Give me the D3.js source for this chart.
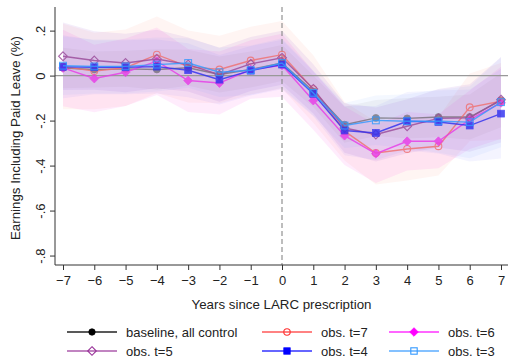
<!DOCTYPE html>
<html><head><meta charset="utf-8">
<script src="https://cdn.jsdelivr.net/npm/d3@7"></script>
<style>
body{margin:0;background:#fff;}
svg{display:block;font-family:"Liberation Sans",Arial,Helvetica,sans-serif;}
</style></head>
<body><svg id="c" width="508" height="357"></svg>
<script>
const years = [-7,-6,-5,-4,-3,-2,-1,0,1,2,3,4,5,6,7];
const yTicks = [0.2,0,-0.2,-0.4,-0.6,-0.8];
const yTickLabels = [".2","0","-.2","-.4","-.6","-.8"];
const seriesNames = ["baseline, all control","obs. t=7","obs. t=6","obs. t=5","obs. t=4","obs. t=3"];
const baseline = [0.034,0.027,0.030,0.027,0.035,0.005,0.027,0.056,-0.070,-0.218,-0.188,-0.190,-0.184,-0.184,-0.110];
const obs7 = [0.040,0.020,0.035,0.093,0.040,0.027,0.067,0.093,-0.060,-0.247,-0.344,-0.326,-0.314,-0.141,-0.114];
const obs6 = [0.034,-0.013,0.015,0.064,-0.022,-0.033,0.027,0.046,-0.111,-0.267,-0.347,-0.292,-0.292,-0.196,-0.121];
const obs5 = [0.086,0.067,0.056,0.074,0.049,0.004,0.052,0.079,-0.059,-0.233,-0.262,-0.225,-0.190,-0.188,-0.107];
const obs4 = [0.039,0.037,0.037,0.040,0.024,-0.018,0.022,0.049,-0.081,-0.244,-0.255,-0.203,-0.206,-0.222,-0.169];
const obs3 = [0.044,0.041,0.041,0.049,0.056,0.015,0.024,0.056,-0.077,-0.222,-0.199,-0.203,-0.203,-0.207,-0.118];
// half-widths of the confidence bands
const ciBase = [0.09,0.08,0.08,0.09,0.08,0.08,0.08,0.08,0.07,0.08,0.08,0.09,0.09,0.10,0.12];
const ci7 = [0.19,0.17,0.17,0.17,0.16,0.15,0.15,0.15,0.15,0.13,0.14,0.14,0.13,0.15,0.17];
const ci6 = [0.17,0.15,0.15,0.15,0.14,0.14,0.13,0.14,0.13,0.13,0.13,0.13,0.12,0.13,0.16];
const ci5 = [0.15,0.13,0.13,0.13,0.12,0.12,0.12,0.12,0.11,0.11,0.12,0.12,0.13,0.15,0.19];
const ci4 = [0.14,0.12,0.12,0.12,0.12,0.11,0.11,0.11,0.10,0.11,0.12,0.13,0.14,0.16,0.20];
const ci3 = [0.13,0.12,0.12,0.12,0.11,0.11,0.11,0.11,0.10,0.10,0.11,0.12,0.14,0.16,0.20];

const styles = [
  {color:"#000000", lineColor:"#555555", fill:"#808080", fillOp:0.08, marker:"circle", filled:true},
  {color:"#ff3030", lineColor:"#f07070", fill:"#ff5030", fillOp:0.06, marker:"circle", filled:false},
  {color:"#ff00ff", lineColor:"#e83ce8", fill:"#ff40e0", fillOp:0.10, marker:"diamond", filled:true},
  {color:"#993399", lineColor:"#9a4a9a", fill:"#9050d0", fillOp:0.10, marker:"diamond", filled:false},
  {color:"#0000ff", lineColor:"#3030f0", fill:"#6060ff", fillOp:0.07, marker:"square", filled:true},
  {color:"#3399ff", lineColor:"#3399ff", fill:"#60a0ff", fillOp:0.07, marker:"square", filled:false}
];
const values = [baseline, obs7, obs6, obs5, obs4, obs3];
const cis = [ciBase, ci7, ci6, ci5, ci4, ci3];

const svg = d3.select("#c");
const x = d3.scaleLinear().domain([-7,7]).range([63,501]);
const y = d3.scaleLinear().domain([-0.842,0.305]).range([265,7]);
const plotL = 55, plotR = 508, plotT = 7, plotB = 265;

// bands
const area = d3.area().x(d=>x(d.x)).y0(d=>y(d.v-d.c)).y1(d=>y(d.v+d.c));
values.forEach((vals,i)=>{
  const d = years.map((yr,j)=>({x:yr, v:vals[j], c:cis[i][j]}));
  svg.append("path").attr("d", area(d)).attr("fill", styles[i].fill).attr("fill-opacity", styles[i].fillOp);
});

// reference lines
svg.append("line").attr("x1",plotL).attr("x2",plotR).attr("y1",y(0)).attr("y2",y(0))
  .attr("stroke","#999").attr("stroke-width",1.2);
svg.append("line").attr("x1",x(0)).attr("x2",x(0)).attr("y1",plotT).attr("y2",plotB)
  .attr("stroke","#888").attr("stroke-width",1.1).attr("stroke-dasharray","5,3");

// markers
function drawMarker(g, type, cx, cy, s, st, size){
  let el;
  const r = size;
  if(type==="circle") el = g.append("circle").attr("cx",cx).attr("cy",cy).attr("r",r);
  else if(type==="square") el = g.append("rect").attr("x",cx-r).attr("y",cy-r).attr("width",2*r).attr("height",2*r);
  else el = g.append("path").attr("d",`M${cx},${cy-r*1.3}L${cx+r*1.3},${cy}L${cx},${cy+r*1.3}L${cx-r*1.3},${cy}Z`);
  if(st.filled) el.attr("fill", s).attr("stroke", s).attr("stroke-width",0.8);
  else el.attr("fill","none").attr("stroke", s).attr("stroke-width",1.1);
  return el;
}

const line = d3.line().x(d=>x(d.x)).y(d=>y(d.v));
values.forEach((vals,i)=>{
  const d = years.map((yr,j)=>({x:yr, v:vals[j]}));
  const g = svg.append("g").attr("opacity", i===0?0.6:0.82);
  g.append("path").attr("d", line(d)).attr("fill","none").attr("stroke", styles[i].lineColor).attr("stroke-width",1.4);
  d.forEach(p=>drawMarker(g, styles[i].marker, x(p.x), y(p.v), styles[i].lineColor, styles[i], 3.4));
});

// axes
const xAxis = d3.axisBottom(x).tickValues(years).tickSize(5).tickSizeOuter(0).tickFormat(d3.format("d"));
const gx = svg.append("g").attr("transform",`translate(0,${plotB})`).call(xAxis);
gx.select(".domain").remove();
gx.selectAll(".tick line").attr("stroke","#333");
gx.selectAll(".tick text").attr("font-size",13).attr("fill","#222").attr("dy","0.9em").attr("font-family","Liberation Sans, Arial, sans-serif");
svg.append("line").attr("x1",plotL).attr("x2",plotR).attr("y1",plotB).attr("y2",plotB).attr("stroke","#333").attr("stroke-width",1);

const yAxis = d3.axisLeft(y).tickValues(yTicks).tickSize(5).tickSizeOuter(0).tickFormat((d,i)=>yTickLabels[i]);
const gy = svg.append("g").attr("transform",`translate(${plotL},0)`).call(yAxis);
gy.select(".domain").remove();
gy.selectAll(".tick line").attr("stroke","#333");
gy.selectAll(".tick text").attr("font-size",13).attr("fill","#222")
  .attr("x",null).attr("dy",null).attr("text-anchor","middle")
  .attr("font-family","Liberation Sans, Arial, sans-serif")
  .attr("transform","translate(-10,0) rotate(-90)");
svg.append("line").attr("x1",plotL).attr("x2",plotL).attr("y1",plotT).attr("y2",plotB).attr("stroke","#333").attr("stroke-width",1);

// titles
svg.append("text").attr("x",281.5).attr("y",308.5).attr("text-anchor","middle").attr("font-size",13.3).attr("fill","#222")
  .text("Years since LARC prescription");
svg.append("text").attr("transform","translate(19.5,138) rotate(-90)").attr("text-anchor","middle").attr("font-size",13.3).attr("fill","#222")
  .text("Earnings Including Paid Leave (%)");

// legend
const legendPos = [
  {lx:67, ly:332}, {lx:262, ly:332}, {lx:389, ly:332},
  {lx:67, ly:351}, {lx:262, ly:351}, {lx:389, ly:351}
];
const legendOrder = [0,1,2,3,4,5];
legendOrder.forEach((si,k)=>{
  const p = legendPos[k], st = styles[si];
  const g = svg.append("g");
  g.append("line").attr("x1",p.lx).attr("x2",p.lx+50).attr("y1",p.ly).attr("y2",p.ly)
    .attr("stroke", si===0 ? "#222" : st.color).attr("stroke-width",1.6).attr("stroke-opacity", si===0?1:0.8);
  drawMarker(g, st.marker, p.lx+25, p.ly, si===0?"#000":st.color, st, st.marker==="diamond"?3.3:3.2);
  g.append("text").attr("x",p.lx+59).attr("y",p.ly+4.5).attr("font-size",13).attr("fill","#222").text(seriesNames[si]);
});
</script></body></html>
